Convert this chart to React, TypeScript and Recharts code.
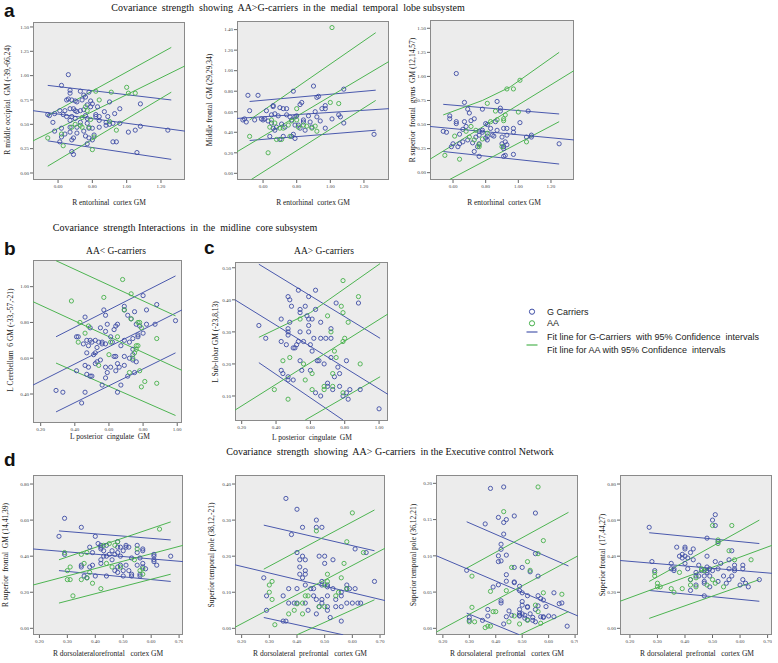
import React from 'react';
import { ScatterChart, Scatter, XAxis, YAxis } from 'recharts';

type P = number[];

// ---------- data ----------
const a1Blue: P[] = [[0.66,1.01],[0.62,0.90],[0.67,0.85],[0.67,0.82],[0.73,0.84],[0.75,0.80],[0.78,0.83],[0.76,0.78],[0.65,0.75],[0.66,0.76],[0.68,0.75],[0.70,0.74],[0.71,0.73],[0.79,0.74],[0.74,0.75],[0.80,0.71],[0.83,0.68],[0.67,0.66],[0.69,0.66],[0.70,0.64],[0.73,0.64],[0.77,0.70],[0.79,0.68],[0.75,0.65],[0.90,0.73],[0.96,0.66],[0.61,0.64],[0.64,0.64],[0.54,0.60],[0.55,0.59],[0.58,0.61],[0.63,0.60],[0.65,0.58],[0.68,0.58],[0.71,0.63],[0.76,0.59],[0.82,0.60],[0.87,0.63],[0.70,0.56],[0.67,0.54],[0.73,0.52],[0.77,0.56],[0.82,0.58],[0.84,0.58],[0.89,0.58],[0.57,0.52],[0.62,0.46],[0.67,0.47],[0.71,0.47],[0.77,0.51],[0.84,0.54],[0.88,0.52],[0.90,0.50],[0.93,0.61],[0.92,0.51],[0.71,0.41],[0.75,0.43],[0.78,0.46],[0.80,0.46],[0.84,0.47],[0.88,0.49],[0.96,0.51],[1.01,0.42],[1.08,0.48],[1.08,0.71],[0.62,0.37],[0.58,0.43],[0.67,0.42],[0.64,0.40],[0.69,0.36],[0.78,0.36],[0.81,0.39],[0.76,0.38],[0.92,0.32],[0.94,0.32],[0.61,0.32],[0.80,0.34],[0.68,0.34],[0.77,0.30],[1.05,0.44],[0.68,0.22],[0.69,0.19],[1.06,0.21],[1.24,0.44]];
const a1Green: P[] = [[0.54,0.36],[0.62,0.40],[0.68,0.47],[0.73,0.49],[0.76,0.68],[0.82,0.84],[0.84,0.75],[0.91,0.83],[1.00,0.88],[1.01,0.82],[1.05,0.82],[0.94,0.44],[0.80,0.24],[0.63,0.28],[0.74,0.57],[0.77,0.64],[0.70,0.50],[0.78,0.47],[0.90,0.53],[0.79,0.55],[0.74,0.47],[0.81,0.37]];
const a1BlueFit: P[][] = [[[0.54,0.90],[1.26,0.75]],[[0.454,0.64],[1.34,0.43]],[[0.54,0.33],[1.26,0.14]]];
const a1GreenFit: P[][] = [[[0.54,0.59],[1.26,1.29]],[[0.454,0.33],[1.34,1.10]],[[0.54,0.07],[1.26,0.83]]];

const a2Blue: P[] = [[0.57,0.76],[0.78,0.80],[0.90,0.85],[1.08,0.82],[0.93,0.75],[0.92,0.74],[0.83,0.69],[0.82,0.67],[0.66,0.66],[0.66,0.65],[0.70,0.64],[0.72,0.63],[0.74,0.63],[0.62,0.61],[0.67,0.58],[0.59,0.53],[0.60,0.52],[0.61,0.53],[0.63,0.51],[0.55,0.52],[0.65,0.57],[0.69,0.56],[0.74,0.57],[0.76,0.55],[0.79,0.55],[0.80,0.56],[0.77,0.52],[0.84,0.52],[0.87,0.56],[0.91,0.60],[0.95,0.63],[0.97,0.66],[0.97,0.63],[0.92,0.55],[1.05,0.57],[1.06,0.55],[1.01,0.53],[0.94,0.51],[0.88,0.50],[0.84,0.50],[0.81,0.47],[0.79,0.47],[0.73,0.45],[0.68,0.45],[0.66,0.44],[0.71,0.48],[0.78,0.38],[0.77,0.36],[0.79,0.34],[0.70,0.33],[0.67,0.42],[0.97,0.44],[1.08,0.49],[1.26,0.38],[0.65,0.49],[0.82,0.44],[0.85,0.42],[0.72,0.36],[0.64,0.36],[0.89,0.45],[0.51,0.76],[0.52,0.61],[0.49,0.53],[0.48,0.52],[0.50,0.50]];
const a2Green: P[] = [[1.01,1.42],[0.52,0.36],[0.63,0.20],[0.67,0.49],[0.70,0.44],[0.71,0.33],[0.68,0.33],[0.75,0.47],[0.76,0.36],[0.77,0.51],[0.80,0.52],[0.81,0.45],[0.84,0.47],[0.86,0.46],[0.89,0.44],[0.91,0.46],[0.92,0.41],[1.00,0.69],[1.05,0.68],[0.80,0.63],[0.72,0.44],[0.64,0.45],[0.65,0.52]];
const a2BlueFit: P[][] = [[[0.52,0.70],[1.27,0.81]],[[0.445,0.535],[1.349,0.63]],[[0.52,0.32],[1.27,0.42]]];
const a2GreenFit: P[][] = [[[0.52,0.52],[1.27,1.37]],[[0.445,0.21],[1.349,1.09]],[[0.53,-0.06],[1.27,0.71]]];

const a3Blue: P[] = [[0.62,1.03],[0.58,0.59],[0.58,0.56],[0.54,0.43],[0.56,0.42],[0.62,0.51],[0.62,0.53],[0.67,0.73],[0.69,0.66],[0.70,0.62],[0.67,0.53],[0.66,0.45],[0.68,0.48],[0.71,0.54],[0.73,0.56],[0.64,0.40],[0.60,0.30],[0.59,0.27],[0.63,0.27],[0.64,0.30],[0.66,0.32],[0.69,0.34],[0.72,0.31],[0.74,0.37],[0.76,0.39],[0.76,0.43],[0.78,0.44],[0.80,0.51],[0.81,0.50],[0.83,0.46],[0.78,0.66],[0.87,0.74],[0.89,0.67],[0.86,0.53],[0.87,0.44],[0.84,0.39],[0.85,0.38],[0.81,0.38],[0.80,0.36],[0.76,0.30],[0.73,0.22],[0.76,0.17],[0.91,0.27],[0.92,0.18],[0.81,0.34],[0.78,0.42],[0.75,0.27],[0.91,0.46],[0.93,0.39],[0.89,0.64],[1.06,0.64],[1.01,0.52],[0.97,0.46],[0.93,0.46],[0.97,0.42],[0.90,0.37],[0.92,0.32],[0.90,0.30],[0.93,0.29],[0.91,0.25],[0.97,0.19],[1.08,0.39],[1.08,0.37],[1.25,0.30],[1.05,0.37],[0.91,0.17]];
const a3Green: P[] = [[0.55,0.18],[0.64,0.14],[0.61,0.38],[0.68,0.43],[0.71,0.48],[0.74,0.44],[0.76,0.29],[0.76,0.27],[0.78,0.35],[0.81,0.41],[0.83,0.53],[0.86,0.64],[0.93,0.87],[0.92,0.60],[0.87,0.55],[0.81,0.72],[0.73,0.34],[0.70,0.37],[0.97,0.87],[1.01,0.96],[0.91,0.54],[0.91,0.56],[1.00,0.63],[1.05,0.32],[0.90,0.27]];
const a3BlueFit: P[][] = [[[0.54,0.71],[1.25,0.61]],[[0.459,0.48],[1.341,0.34]],[[0.54,0.22],[1.25,0.09]]];
const a3GreenFit: P[][] = [[[0.54,0.60],[0.78,0.75],[0.95,0.89],[1.25,1.25]],[[0.459,0.14],[1.341,1.06]],[[0.58,-0.07],[1.25,0.53]]];

const bBlue: P[] = [[0.29,0.42],[0.33,0.41],[0.44,0.35],[0.46,0.41],[0.41,0.72],[0.46,0.83],[0.49,0.77],[0.55,0.77],[0.57,0.87],[0.58,0.84],[0.58,0.75],[0.59,0.79],[0.65,0.79],[0.64,0.78],[0.63,0.76],[0.69,0.89],[0.69,0.87],[0.71,0.84],[0.73,0.82],[0.75,0.86],[0.76,0.79],[0.80,0.95],[0.82,0.87],[0.82,0.79],[0.78,0.78],[0.88,0.90],[0.87,0.79],[0.99,0.81],[0.42,0.72],[0.45,0.68],[0.47,0.70],[0.49,0.70],[0.50,0.69],[0.52,0.70],[0.54,0.69],[0.56,0.69],[0.61,0.72],[0.48,0.67],[0.53,0.66],[0.56,0.68],[0.58,0.68],[0.62,0.69],[0.67,0.67],[0.69,0.70],[0.72,0.69],[0.74,0.71],[0.77,0.72],[0.77,0.73],[0.80,0.74],[0.51,0.62],[0.52,0.63],[0.53,0.58],[0.52,0.57],[0.55,0.59],[0.47,0.63],[0.46,0.56],[0.48,0.55],[0.49,0.50],[0.50,0.50],[0.47,0.51],[0.58,0.55],[0.59,0.52],[0.61,0.55],[0.64,0.61],[0.63,0.61],[0.65,0.57],[0.66,0.55],[0.64,0.53],[0.58,0.49],[0.69,0.56],[0.69,0.61],[0.74,0.62],[0.72,0.60],[0.74,0.65],[0.74,0.59],[0.75,0.52],[0.71,0.50],[0.76,0.58],[0.67,0.45],[0.65,0.41],[0.41,0.53],[0.56,0.45]];
const bGreen: P[] = [[0.38,0.92],[0.68,1.04],[0.73,0.96],[0.57,0.94],[0.43,0.80],[0.46,0.74],[0.42,0.69],[0.48,0.78],[0.69,0.87],[0.73,0.82],[0.77,0.80],[0.78,0.80],[0.79,0.77],[0.61,0.69],[0.65,0.72],[0.60,0.62],[0.74,0.60],[0.76,0.67],[0.77,0.67],[0.76,0.65],[0.88,0.71],[0.75,0.63],[0.54,0.56],[0.72,0.52],[0.78,0.53],[0.81,0.47],[0.88,0.46],[0.79,0.44]];
const bBlueFit: P[][] = [[[0.29,0.72],[0.99,1.06]],[[0.155,0.45],[1.028,0.87]],[[0.29,0.30],[0.99,0.63]]];
const bGreenFit: P[][] = [[[0.29,1.145],[0.99,0.837]],[[0.155,0.916],[1.028,0.532]],[[0.29,0.573],[0.99,0.28]]];

const cBlue: P[] = [[0.30,0.32],[0.34,0.28],[0.43,0.34],[0.43,0.27],[0.43,0.18],[0.44,0.17],[0.46,0.26],[0.47,0.41],[0.48,0.40],[0.48,0.33],[0.47,0.31],[0.47,0.30],[0.47,0.29],[0.49,0.38],[0.50,0.25],[0.51,0.25],[0.52,0.26],[0.54,0.37],[0.54,0.36],[0.54,0.30],[0.53,0.27],[0.53,0.43],[0.54,0.21],[0.55,0.18],[0.50,0.15],[0.47,0.15],[0.47,0.16],[0.56,0.27],[0.57,0.38],[0.58,0.35],[0.59,0.32],[0.59,0.34],[0.59,0.30],[0.60,0.26],[0.60,0.18],[0.59,0.41],[0.61,0.24],[0.61,0.34],[0.62,0.28],[0.63,0.43],[0.63,0.37],[0.64,0.21],[0.63,0.11],[0.66,0.10],[0.66,0.33],[0.66,0.28],[0.68,0.20],[0.69,0.28],[0.70,0.14],[0.70,0.13],[0.72,0.31],[0.72,0.28],[0.72,0.22],[0.73,0.12],[0.74,0.16],[0.75,0.39],[0.76,0.19],[0.77,0.17],[0.77,0.13],[0.79,0.10],[0.81,0.21],[0.81,0.11],[0.82,0.09],[0.83,0.12],[0.88,0.39],[0.89,0.12],[1.00,0.06],[0.65,0.21]];
const cGreen: P[] = [[0.79,0.46],[0.88,0.41],[0.78,0.38],[0.79,0.36],[0.82,0.33],[0.80,0.28],[0.79,0.27],[0.72,0.30],[0.70,0.35],[0.75,0.22],[0.74,0.24],[0.73,0.17],[0.73,0.13],[0.68,0.13],[0.68,0.12],[0.61,0.12],[0.61,0.17],[0.57,0.15],[0.56,0.20],[0.54,0.34],[0.48,0.22],[0.44,0.21],[0.39,0.12],[0.47,0.09],[0.89,0.20],[0.79,0.11]];
const cBlueFit: P[][] = [[[0.30,0.511],[1.006,0.28]],[[0.161,0.40],[1.052,0.105]],[[0.30,0.204],[0.79,0.025]]];
const cGreenFit: P[][] = [[[0.30,0.283],[0.60,0.36],[1.006,0.513]],[[0.161,0.056],[1.052,0.356]],[[0.57,0.025],[1.006,0.16]]];

const d1Blue: P[] = [[0.29,0.61],[0.27,0.51],[0.35,0.56],[0.29,0.41],[0.40,0.51],[0.38,0.45],[0.39,0.42],[0.41,0.47],[0.42,0.46],[0.42,0.44],[0.42,0.45],[0.44,0.46],[0.43,0.43],[0.43,0.40],[0.42,0.38],[0.42,0.36],[0.44,0.40],[0.45,0.41],[0.46,0.43],[0.46,0.38],[0.47,0.41],[0.48,0.48],[0.48,0.45],[0.49,0.45],[0.48,0.42],[0.49,0.40],[0.49,0.35],[0.50,0.43],[0.48,0.34],[0.47,0.32],[0.51,0.46],[0.52,0.45],[0.53,0.39],[0.51,0.35],[0.52,0.32],[0.50,0.32],[0.50,0.29],[0.55,0.46],[0.55,0.42],[0.56,0.39],[0.55,0.35],[0.56,0.30],[0.57,0.43],[0.57,0.44],[0.57,0.36],[0.58,0.33],[0.57,0.34],[0.61,0.41],[0.61,0.38],[0.61,0.40],[0.62,0.35],[0.67,0.40],[0.61,0.37],[0.35,0.35],[0.35,0.34],[0.36,0.29],[0.37,0.28],[0.38,0.34],[0.40,0.29],[0.39,0.35],[0.44,0.29],[0.48,0.31],[0.53,0.30],[0.51,0.45],[0.56,0.29],[0.53,0.29]];
const d1Green: P[] = [[0.29,0.42],[0.30,0.32],[0.30,0.27],[0.31,0.27],[0.31,0.34],[0.35,0.27],[0.36,0.36],[0.37,0.28],[0.38,0.31],[0.39,0.25],[0.32,0.18],[0.35,0.41],[0.37,0.42],[0.42,0.22],[0.43,0.46],[0.44,0.36],[0.45,0.47],[0.46,0.34],[0.47,0.46],[0.48,0.48],[0.54,0.38],[0.55,0.44],[0.57,0.30],[0.57,0.33],[0.63,0.55],[0.56,0.32],[0.49,0.34]];
const d1BlueFit: P[][] = [[[0.27,0.54],[0.67,0.49]],[[0.177,0.44],[0.714,0.37]],[[0.27,0.32],[0.67,0.26]]];
const d1GreenFit: P[][] = [[[0.27,0.38],[0.67,0.59]],[[0.177,0.24],[0.714,0.46]],[[0.27,0.14],[0.67,0.30]]];

const d2Blue: P[] = [[0.36,0.36],[0.40,0.33],[0.47,0.30],[0.38,0.26],[0.42,0.28],[0.47,0.28],[0.49,0.28],[0.40,0.21],[0.42,0.20],[0.48,0.20],[0.50,0.20],[0.53,0.19],[0.50,0.18],[0.41,0.19],[0.43,0.19],[0.41,0.17],[0.43,0.16],[0.41,0.15],[0.43,0.15],[0.42,0.14],[0.61,0.22],[0.65,0.21],[0.28,0.14],[0.29,0.09],[0.29,0.05],[0.37,0.11],[0.35,0.09],[0.40,0.11],[0.43,0.12],[0.45,0.11],[0.46,0.11],[0.49,0.12],[0.49,0.13],[0.51,0.12],[0.51,0.115],[0.53,0.11],[0.56,0.10],[0.58,0.11],[0.58,0.12],[0.59,0.11],[0.61,0.11],[0.68,0.13],[0.46,0.09],[0.47,0.08],[0.51,0.09],[0.54,0.08],[0.56,0.09],[0.60,0.07],[0.62,0.07],[0.63,0.07],[0.58,0.07],[0.56,0.06],[0.54,0.06],[0.51,0.06],[0.49,0.08],[0.49,0.07],[0.40,0.07],[0.43,0.07],[0.44,0.05],[0.47,0.04],[0.48,0.06],[0.51,0.05],[0.52,0.03],[0.56,0.02],[0.36,0.02],[0.35,0.02],[0.37,0.07],[0.39,0.07]];
const d2Green: P[] = [[0.60,0.32],[0.47,0.27],[0.58,0.24],[0.64,0.21],[0.57,0.18],[0.51,0.15],[0.56,0.14],[0.30,0.12],[0.31,0.13],[0.30,0.10],[0.31,0.08],[0.37,0.04],[0.32,0.01],[0.40,0.068],[0.39,0.05],[0.42,0.04],[0.43,0.09],[0.44,0.09],[0.42,0.07],[0.48,0.06],[0.50,0.12],[0.51,0.13],[0.54,0.09],[0.55,0.10],[0.58,0.11],[0.50,0.06]];
const d2BlueFit: P[][] = [[[0.28,0.286],[0.68,0.215]],[[0.176,0.176],[0.718,0.077]],[[0.28,0.030],[0.567,-0.018]]];
const d2GreenFit: P[][] = [[[0.28,0.164],[0.68,0.328]],[[0.176,0.003],[0.718,0.222]],[[0.40,-0.018],[0.68,0.079]]];

const d3Blue: P[] = [[0.38,0.193],[0.43,0.195],[0.41,0.153],[0.44,0.150],[0.43,0.146],[0.47,0.155],[0.55,0.159],[0.36,0.144],[0.43,0.130],[0.42,0.116],[0.42,0.109],[0.41,0.100],[0.44,0.101],[0.41,0.092],[0.42,0.093],[0.47,0.084],[0.50,0.084],[0.53,0.078],[0.55,0.103],[0.56,0.072],[0.44,0.074],[0.44,0.065],[0.47,0.064],[0.47,0.063],[0.41,0.060],[0.39,0.057],[0.49,0.058],[0.50,0.049],[0.49,0.052],[0.52,0.045],[0.56,0.045],[0.57,0.041],[0.58,0.039],[0.62,0.049],[0.64,0.034],[0.65,0.035],[0.59,0.030],[0.56,0.031],[0.55,0.026],[0.57,0.016],[0.58,0.016],[0.58,0.015],[0.60,0.017],[0.62,0.016],[0.50,0.037],[0.50,0.032],[0.49,0.026],[0.52,0.029],[0.52,0.030],[0.53,0.020],[0.54,0.015],[0.54,0.011],[0.52,0.012],[0.55,0.009],[0.49,0.021],[0.50,0.020],[0.51,0.018],[0.49,0.017],[0.49,0.018],[0.51,0.014],[0.45,0.024],[0.44,0.016],[0.42,0.038],[0.42,0.035],[0.43,0.006],[0.37,0.026],[0.37,0.017],[0.30,0.015],[0.30,0.011],[0.29,0.080],[0.35,0.011],[0.67,0.003],[0.46,0.018]];
const d3Green: P[] = [[0.56,0.195],[0.43,0.161],[0.58,0.121],[0.56,0.103],[0.52,0.092],[0.46,0.084],[0.53,0.080],[0.31,0.072],[0.38,0.051],[0.44,0.052],[0.58,0.049],[0.65,0.047],[0.31,0.029],[0.39,0.023],[0.40,0.023],[0.47,0.017],[0.30,0.009],[0.32,0.009],[0.37,0.003],[0.38,0.003],[0.36,0.001],[0.45,0.009],[0.49,0.006],[0.52,0.011],[0.55,0.032],[0.56,0.023],[0.57,0.007]];
const d3BlueFit: P[][] = [[[0.29,0.147],[0.675,0.086]],[[0.176,0.100],[0.711,0.017]],[[0.29,0.021],[0.49,-0.009]]];
const d3GreenFit: P[][] = [[[0.29,0.083],[0.675,0.160]],[[0.176,-0.005],[0.711,0.100]],[[0.49,-0.009],[0.675,0.023]]];

const d4Blue: P[] = [[0.27,0.56],[0.28,0.37],[0.29,0.32],[0.35,0.36],[0.35,0.33],[0.36,0.32],[0.36,0.33],[0.37,0.45],[0.38,0.40],[0.39,0.41],[0.39,0.39],[0.40,0.36],[0.40,0.45],[0.40,0.44],[0.40,0.40],[0.41,0.33],[0.41,0.39],[0.42,0.42],[0.42,0.27],[0.42,0.21],[0.43,0.44],[0.43,0.38],[0.44,0.31],[0.44,0.29],[0.44,0.24],[0.45,0.35],[0.46,0.32],[0.47,0.29],[0.47,0.25],[0.48,0.34],[0.48,0.32],[0.48,0.31],[0.49,0.29],[0.49,0.23],[0.48,0.40],[0.48,0.50],[0.49,0.33],[0.50,0.32],[0.50,0.60],[0.51,0.63],[0.51,0.57],[0.51,0.37],[0.52,0.33],[0.52,0.26],[0.52,0.48],[0.53,0.36],[0.54,0.29],[0.55,0.25],[0.56,0.33],[0.56,0.27],[0.57,0.29],[0.56,0.38],[0.57,0.43],[0.58,0.35],[0.58,0.32],[0.58,0.33],[0.60,0.24],[0.61,0.35],[0.61,0.33],[0.61,0.27],[0.63,0.23],[0.62,0.25],[0.67,0.27],[0.47,0.18],[0.47,0.26],[0.45,0.29]];
const d4Green: P[] = [[0.29,0.31],[0.29,0.29],[0.30,0.25],[0.30,0.23],[0.31,0.23],[0.35,0.22],[0.36,0.20],[0.38,0.31],[0.39,0.22],[0.42,0.27],[0.42,0.24],[0.44,0.23],[0.44,0.28],[0.46,0.33],[0.47,0.32],[0.48,0.24],[0.50,0.27],[0.51,0.25],[0.52,0.49],[0.52,0.47],[0.50,0.57],[0.56,0.43],[0.57,0.57],[0.58,0.38],[0.54,0.23],[0.64,0.38]];
const d4BlueFit: P[][] = [[[0.27,0.53],[0.67,0.47]],[[0.164,0.376],[0.716,0.305]],[[0.27,0.21],[0.67,0.15]]];
const d4GreenFit: P[][] = [[[0.27,0.26],[0.67,0.60]],[[0.164,0.15],[0.716,0.46]],[[0.27,0.055],[0.67,0.27]]];

// tick labels
const ticksEntorhinal = [0.6, 0.8, 1.0, 1.2];
const ticksCingulate = [0.2, 0.4, 0.6, 0.8, 1.0];
const ticksDlpfc = [0.2, 0.3, 0.4, 0.5, 0.6, 0.7];
const ticksA1Y = [0, 0.25, 0.5, 0.75, 1.0, 1.25, 1.5];
const ticksA2Y = [0, 0.2, 0.4, 0.6, 0.8, 1.0, 1.2, 1.4];
const ticksBY = [0.4, 0.6, 0.8, 1.0];
const ticksCY = [0.1, 0.2, 0.3, 0.4, 0.5];
const ticksD1Y = [0, 0.2, 0.4, 0.6, 0.8];
const ticksD2Y = [0, 0.1, 0.2, 0.3, 0.4];
const ticksD3Y = [0, 0.05, 0.1, 0.15, 0.2];

// text
const yLabels = ['R middle occipital  GM (-39,-66,24)', 'Middle frontal  GM (29,29,34)', 'R superior  frontal  gyrus  GM (12,14,57)', 'L Cerebellum  6 GM (-33,-57,-21)', 'L Sub-lobar GM (-23,8,13)', 'R superior  frontal  GM (14,41,39)', 'Superior temporal pole (38,12,-21)', 'Superior temporal pole (36,12,21)', 'Superior frontal  (17,44,27)'];
const xLabels = ['R entorhinal  cortex GM', 'R entorhinal  cortex GM', 'R entorhinal  cortex GM', 'L posterior  cingulate  GM', 'L posterior  cingulate  GM', 'R dorsolateralorefrontal   cortex GM', 'R dorsolateral  prefrontal   cortex GM', 'R dorsolateral  prefrontal   cortex GM', 'R dorsolateral  prefrontal   cortex GM'];
const legendLabels = ['G Carriers', 'AA', 'Fit line for G-Carriers  with 95% Confidence  intervals', 'Fit line for AA with 95% Confidence  intervals'];

// ---------- styling / layout ----------
const BLUE = '#3e4da5';
const GREEN = '#46b04b';
const BLUE_L = '#4a59ad';
const GREEN_L = '#4db451';
const YW = 26;
const XH = 14;

const panels = [
  { bx: 33, by: 22, bw: 152, bh: 158, xd: [0.454, 1.34], yd: [-0.072, 1.551], xt: ticksEntorhinal, yt: ticksA1Y, blue: a1Blue, green: a1Green, bf: a1BlueFit, gf: a1GreenFit, ylx: 7, yly: 100, xlx: 109, xly: 202 },
  { bx: 237, by: 21, bw: 152, bh: 159, xd: [0.445, 1.349], yd: [-0.065, 1.484], xt: ticksEntorhinal, yt: ticksA2Y, blue: a2Blue, green: a2Green, bf: a2BlueFit, gf: a2GreenFit, ylx: 209, yly: 100, xlx: 313, xly: 202 },
  { bx: 430, by: 20, bw: 144, bh: 160, xd: [0.459, 1.341], yd: [-0.076, 1.586], xt: ticksEntorhinal, yt: ticksA1Y, blue: a3Blue, green: a3Green, bf: a3BlueFit, gf: a3GreenFit, ylx: 412, yly: 100, xlx: 504, xly: 202 },
  { bx: 33, by: 260, bw: 149, bh: 163, xd: [0.155, 1.028], yd: [0.238, 1.149], xt: ticksCingulate, yt: ticksBY, blue: bBlue, green: bGreen, bf: bBlueFit, gf: bGreenFit, ylx: 10, yly: 340, xlx: 110, xly: 436 },
  { bx: 235, by: 262, bw: 153, bh: 159, xd: [0.161, 1.052], yd: [0.022, 0.518], xt: ticksCingulate, yt: ticksCY, blue: cBlue, green: cGreen, bf: cBlueFit, gf: cGreenFit, ylx: 215, yly: 342, xlx: 312, xly: 437 },
  { bx: 33, by: 475, bw: 150, bh: 160, xd: [0.177, 0.714], yd: [-0.037, 0.85], xt: ticksDlpfc, yt: ticksD1Y, blue: d1Blue, green: d1Green, bf: d1BlueFit, gf: d1GreenFit, ylx: 5, yly: 555, xlx: 108, xly: 653 },
  { bx: 235, by: 475, bw: 150, bh: 160, xd: [0.176, 0.718], yd: [-0.0185, 0.425], xt: ticksDlpfc, yt: ticksD2Y, blue: d2Blue, green: d2Green, bf: d2BlueFit, gf: d2GreenFit, ylx: 211, yly: 555, xlx: 310, xly: 653 },
  { bx: 436, by: 475, bw: 142, bh: 160, xd: [0.174, 0.711], yd: [-0.0092, 0.2115], xt: ticksDlpfc, yt: ticksD3Y, blue: d3Blue, green: d3Green, bf: d3BlueFit, gf: d3GreenFit, ylx: 413, yly: 555, xlx: 507, xly: 653 },
  { bx: 620, by: 475, bw: 152, bh: 160, xd: [0.164, 0.716], yd: [-0.037, 0.85], xt: ticksDlpfc, yt: ticksD1Y, blue: d4Blue, green: d4Green, bf: d4BlueFit, gf: d4GreenFit, ylx: 602, yly: 555, xlx: 697, xly: 653 },
];

const toPts = (arr: P[]) => arr.map(([x, y]) => ({ x, y }));
const f2 = (v: number) => v.toFixed(2);
const ring = (color: string) => (props: any) => (
  <circle cx={props.cx} cy={props.cy} r={2.1} fill="none" stroke={color} strokeWidth={0.9} />
);
const noShape = () => <g />;
const tickStyle = { fontSize: 5, fill: '#444', fontFamily: 'Liberation Serif, serif' };
const serif = 'Liberation Serif, "Times New Roman", serif';

function Panel({ p, i }: { p: any; i: number }) {
  return (
    <>
      <div style={{ position: 'absolute', left: p.bx, top: p.by, width: p.bw, height: p.bh, background: '#ececec', border: '1px solid #8a8a8a', boxSizing: 'border-box' }} />
      <div style={{ position: 'absolute', left: p.bx - YW, top: p.by }}>
        <ScatterChart width={p.bw + YW} height={p.bh + XH} margin={{ top: 0, right: 0, bottom: 0, left: 0 }}>
          <XAxis type="number" dataKey="x" domain={p.xd} ticks={p.xt} allowDataOverflow interval={0} tickFormatter={f2} tick={tickStyle} tickSize={3} tickMargin={1} axisLine={false} tickLine={{ stroke: '#666' }} height={XH} />
          <YAxis type="number" dataKey="y" domain={p.yd} ticks={p.yt} allowDataOverflow interval={0} tickFormatter={f2} tick={tickStyle} tickSize={3} tickMargin={1} axisLine={false} tickLine={{ stroke: '#666' }} width={YW} />
          {p.bf.map((ln: P[], k: number) => (
            <Scatter key={'bf' + k} data={toPts(ln)} fill={BLUE_L} line={{ stroke: BLUE_L, strokeWidth: 1 }} lineType="joint" shape={noShape} isAnimationActive={false} />
          ))}
          {p.gf.map((ln: P[], k: number) => (
            <Scatter key={'gf' + k} data={toPts(ln)} fill={GREEN_L} line={{ stroke: GREEN_L, strokeWidth: 1 }} lineType="joint" shape={noShape} isAnimationActive={false} />
          ))}
          <Scatter data={toPts(p.blue)} fill={BLUE} shape={ring(BLUE)} isAnimationActive={false} />
          <Scatter data={toPts(p.green)} fill={GREEN} shape={ring(GREEN)} isAnimationActive={false} />
        </ScatterChart>
      </div>
      <div style={{ position: 'absolute', left: p.ylx, top: p.yly, transform: 'translate(-50%,-50%) rotate(-90deg)', whiteSpace: 'pre', fontFamily: serif, fontSize: 7.5, color: '#222' }}>{yLabels[i]}</div>
      <div style={{ position: 'absolute', left: p.xlx, top: p.xly, transform: 'translate(-50%,-50%)', whiteSpace: 'pre', fontFamily: serif, fontSize: 7.5, color: '#222' }}>{xLabels[i]}</div>
    </>
  );
}

function Txt({ x, y, size, children, bold, family }: any) {
  return (
    <div style={{ position: 'absolute', left: x, top: y, transform: 'translate(-50%,-50%)', whiteSpace: 'pre', fontFamily: family || serif, fontSize: size, fontWeight: bold ? 700 : 400, color: '#111' }}>{children}</div>
  );
}

function Letter({ x, y, ch }: any) {
  return (
    <div style={{ position: 'absolute', left: x, top: y, fontFamily: 'Liberation Sans, Arial, sans-serif', fontWeight: 700, fontSize: 19, lineHeight: '14px', color: '#111' }}>{ch}</div>
  );
}

export default function App() {
  const sans = 'Liberation Sans, Arial, sans-serif';
  return (
    <div style={{ position: 'absolute', left: 0, top: 0, width: 778, height: 663, background: '#fff', overflow: 'hidden' }}>
      <Letter x={4} y={4} ch="a" />
      <Letter x={4} y={242} ch="b" />
      <Letter x={204} y={241} ch="c" />
      <Letter x={4} y={453} ch="d" />
      <Txt x={288} y={7} size={10}>Covariance  strength  showing  AA&gt;G-carriers  in the  medial  temporal  lobe subsystem</Txt>
      <Txt x={185} y={227} size={10}>Covariance  strength Interactions  in  the  midline  core subsystem</Txt>
      <Txt x={116} y={251} size={9.5}>AA&lt; G-carriers</Txt>
      <Txt x={324} y={251} size={9.5}>AA&gt; G-carriers</Txt>
      <Txt x={390} y={451} size={10}>Covariance  strength  showing  AA&gt; G-carriers  in the Executive control Network</Txt>
      {panels.map((p, i) => <Panel key={i} p={p} i={i} />)}
      <svg style={{ position: 'absolute', left: 515, top: 300 }} width={30} height={60}>
        <circle cx={17} cy={11.7} r={2.6} fill="none" stroke={BLUE} strokeWidth={1} />
        <circle cx={17} cy={23.3} r={2.6} fill="none" stroke={GREEN} strokeWidth={1} />
        <line x1={11.5} x2={22.5} y1={32} y2={32} stroke={BLUE_L} strokeWidth={1.2} />
        <line x1={11.5} x2={22.5} y1={45} y2={45} stroke={GREEN_L} strokeWidth={1.2} />
      </svg>
      {legendLabels.map((t, k) => (
        <div key={k} style={{ position: 'absolute', left: 547, top: [311.7, 323.3, 336.7, 350][k], transform: 'translateY(-50%)', whiteSpace: 'pre', fontFamily: sans, fontSize: 9, color: '#222' }}>{t}</div>
      ))}
    </div>
  );
}
